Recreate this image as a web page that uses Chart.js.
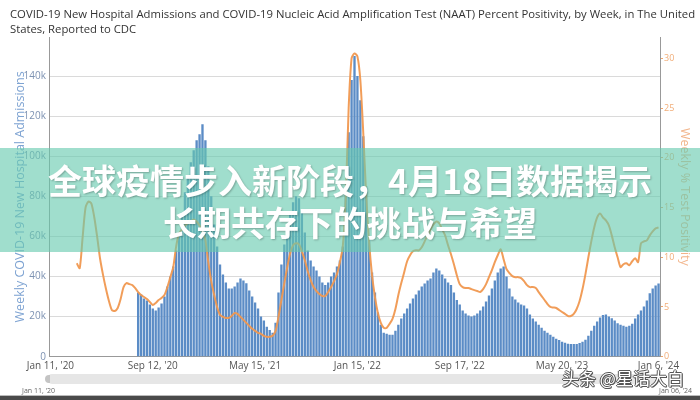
<!DOCTYPE html>
<html>
<head>
<meta charset="utf-8">
<script src="https://cdn.jsdelivr.net/npm/chart.js@4.4.1/dist/chart.umd.min.js"></script>
<style>
  html, body { margin: 0; padding: 0; background: #fff; }
  #wrap { position: relative; width: 700px; height: 400px; overflow: hidden; font-family: 'Open Sans', sans-serif; }
  #myChart { position: absolute; left: 0; top: 0; }
  #title { position: absolute; left: 10px; top: 6px; width: 690px; font-size: 11.3px; line-height: 15px; color: #333; white-space: nowrap; }
  #band { position: absolute; left: 0; top: 148px; width: 700px; height: 104px; background: rgba(102, 202, 174, 0.62); }
  .headline { position: absolute; left: 0; width: 700px; text-align: center; color: #fff; font-family: 'Noto Sans CJK SC', sans-serif; font-weight: 700; font-size: 34px; line-height: 40px; text-shadow: 1px 1px 2px rgba(0,0,0,0.25); white-space: nowrap; }
  #nav { position: absolute; left: 47px; top: 374px; width: 614px; height: 10px; background: #e6e6e6; border-radius: 5px; }
  #handle { position: absolute; left: 45px; top: 375px; width: 5px; height: 8px; border-radius: 4px 0 0 4px; background: #c4c4c4; }
  .navlabel { position: absolute; top: 386px; font-size: 7px; color: #666; white-space: nowrap; }
  #rule { position: absolute; left: 0; top: 395px; width: 700px; height: 1px; background: #bbb; }
  #foot { position: absolute; left: 0; top: 396px; width: 700px; height: 4px; background: #4a4a4a; }
  #mark { position: absolute; left: 562px; top: 369px; font-family: 'Noto Sans CJK SC', sans-serif; font-size: 17px; line-height: 17px; color: #fff; white-space: nowrap;
          text-shadow: -1px 0 #555, 1px 0 #555, 0 -1px #555, 0 1px #555, 1px 1px #555; }
</style>
</head>
<body>
<div id="wrap">
  <canvas id="myChart" width="700" height="400"></canvas>
  <div id="title">COVID-19 New Hospital Admissions and COVID-19 Nucleic Acid Amplification Test (NAAT) Percent Positivity, by Week, in The United<br>States, Reported to CDC</div>
  <div id="nav"></div>
  <div id="handle"></div>
  <div class="navlabel" style="left:22px">Jan 11, '20</div>
  <div class="navlabel" style="left:659px">Jan 06, '24</div>
  <div id="band"></div>
  <div class="headline" style="top:160px">全球疫情步入新阶段，4月18日数据揭示</div>
  <div class="headline" style="top:202px">长期共存下的挑战与希望</div>
  <div id="mark">头条 @星话大白</div>
  <div id="rule"></div>
  <div id="foot"></div>
</div>
<script>
// weekly categories, Jan 11 2020 .. Jan 6 2024
const firstWeek = new Date(Date.UTC(2020, 0, 11));
const weekCount = 209;
const months = ['Jan', 'Feb', 'Mar', 'Apr', 'May', 'Jun', 'Jul', 'Aug', 'Sep', 'Oct', 'Nov', 'Dec'];
const weeks = [];
for (let i = 0; i < weekCount; i++) {
    const d = new Date(firstWeek.getTime() + i * 7 * 86400000);
    weeks.push(`${months[d.getUTCMonth()]} ${d.getUTCDate()}, '${String(d.getUTCFullYear()).slice(2)}`);
}

const xTickLabels = ["Jan 11, '20", "Sep 12, '20", "May 15, '21", "Jan 15, '22", "Sep 17, '22", "May 20, '23", "Jan 6, '24"];

// weekly new hospital admissions, thousands
const admissions = [
    null, null, null, null, null, null, null, null, null, null,
    null, null, null, null, null, null, null, null, null, null,
    null, null, null, null, null, null, null, null, null, null,
    32, 31, 29, 28, 26, 24, 23, 24.5, 26.6, 30,
    35, 40, 45, 53, 62, 72, 82, 90, 97, 103,
    108, 111, 116, 108, 95, 80, 66, 55, 46, 41,
    37, 34, 34, 35, 37, 39, 38, 36.7, 33, 30,
    27, 24, 20, 18, 15, 13.3, 12, 17, 32, 46,
    56, 65, 72, 77, 80, 79, 73, 62, 53, 48,
    45, 43, 40, 37, 35.8, 37, 40, 42, 45, 48,
    55, 82, 112, 138, 150, 140, 128, 110, 85, 60,
    42, 32, 22, 16, 12, 11.5, 11, 11, 13, 16,
    19, 21.6, 24, 26.6, 29, 31, 33, 35, 36.5, 38,
    39, 42, 44, 43, 41, 39, 37, 35.8, 32, 28.3,
    26, 23, 21.5, 20.5, 20, 20.5, 21.6, 23, 25, 27.5,
    30.5, 34, 38, 42, 44, 45, 40, 34, 30, 28.5,
    27, 26, 25.5, 24, 21, 19, 17.5, 16, 14.5, 13,
    12, 11, 10, 9, 8.3, 7.5, 7, 6.5, 6.3, 6.3,
    6.3, 6.8, 7.5, 8.5, 10.5, 13, 15.5, 17.5, 19.5, 20.8,
    21, 20, 19.2, 18, 16.7, 16, 15.5, 15, 15.5, 16.5,
    19, 21, 23, 25, 28, 31.6, 34, 35.5, 36.5
];

// weekly NAAT percent positivity
const positivity = [
    null, null, null, null, null, null, null, null, null, 9.4,
    8.9, 12, 15, 15.6, 15.4, 14, 12, 9.8, 8.2, 6.8,
    5.6, 4.7, 4.6, 4.9, 5.8, 7.0, 7.4, 7.3, 7.2, 6.9,
    6.5, 6.2, 6.0, 5.8, 5.5, 5.2, 5.4, 5.7, 5.9, 6.2,
    7.0, 8.0, 9.0, 11.1, 12.4, 12.8, 13.2, 13.4, 13.6, 13.8,
    13.6, 13.2, 12.6, 11.7, 9.5, 7.6, 6.2, 5.0, 4.2, 4.0,
    3.9, 3.9, 4.1, 4.4, 4.3, 4.0, 3.7, 3.4, 3.1, 2.8,
    2.6, 2.4, 2.3, 2.1, 2.0, 2.0, 2.1, 2.6, 4.0, 5.7,
    7.4, 9.0, 10.4, 11.2, 11.4, 11.3, 10.6, 9.7, 8.6, 7.7,
    7.0, 6.6, 6.3, 6.1, 6.1, 6.5, 7.0, 7.6, 8.3, 9.5,
    11.1, 16, 25, 30, 30.5, 30.2, 27.8, 22.5, 16.2, 11.5,
    8.2, 6.0, 4.4, 3.4, 2.9, 2.9, 3.3, 3.8, 4.8, 6.2,
    7.4, 8.5, 9.6, 10.2, 10.6, 10.7, 10.7, 11.0, 11.6, 12.2,
    12.8, 13.3, 13.6, 13.4, 12.8, 12.2, 11.2, 10.3, 9.3, 8.2,
    7.3, 7.0, 6.9, 6.9, 6.8, 6.7, 6.6, 6.5, 6.8, 7.3,
    8.0, 8.7, 9.5, 10.2, 10.8, 9.8, 8.8, 8.4, 8.1, 8.0,
    8.0, 7.9, 7.6, 7.2, 7.0, 7.0, 6.9, 6.5, 6.1, 5.7,
    5.3, 5.0, 4.95, 4.9, 4.7, 4.5, 4.3, 4.1, 4.1, 4.3,
    4.8, 5.6, 6.8, 8.3, 10.0, 11.6, 13.0, 14.0, 14.4, 14.0,
    13.7, 13.2, 12.2, 11.0, 10.0, 9.0, 9.3, 9.4, 9.2, 9.6,
    9.9, 9.5, 11.4, 11.6, 11.7, 12.2, 12.6, 12.9, 13.0
];

const ctx = document.getElementById('myChart').getContext('2d');

const chart = new Chart(ctx, {
    type: 'bar',
    data: {
        labels: weeks,
        datasets: [{
            type: 'line',
            label: 'Weekly % Test Positivity',
            data: positivity,
            yAxisID: 'y2',
            borderColor: 'rgba(240, 152, 80, 0.95)',
            borderWidth: 2,
            pointRadius: 0,
            tension: 0.25,
            order: 0
        }, {
            type: 'bar',
            label: 'Weekly COVID-19 New Hospital Admissions',
            data: admissions,
            yAxisID: 'y',
            backgroundColor: '#5b8cc6',
            barPercentage: 0.8,
            categoryPercentage: 1,
            order: 1
        }]
    },
    options: {
        responsive: false,
        animation: false,
        layout: {
            padding: { top: 37 }
        },
        plugins: {
            legend: { display: false },
            tooltip: { enabled: false }
        },
        scales: {
            x: {
                grid: { display: false, drawTicks: false },
                border: { display: true, color: '#999' },
                ticks: {
                    autoSkip: false,
                    maxRotation: 0,
                    padding: 3,
                    color: '#555',
                    font: { family: 'Open Sans', size: 10 },
                    callback: function (value, index) {
                        const lab = weeks[index];
                        return xTickLabels.includes(lab) ? lab : null;
                    }
                },
                afterFit: (scale) => { scale.height = 43.3; }
            },
            y: {
                position: 'left',
                min: 0,
                max: 159.5,
                grid: { color: '#dadada', drawTicks: false },
                border: { display: true, color: '#999' },
                ticks: {
                    stepSize: 20,
                    includeBounds: false,
                    padding: 3,
                    color: '#7d92b2',
                    font: { family: 'Open Sans', size: 10 },
                    callback: (v) => v === 0 ? '0' : v + 'k'
                },
                title: {
                    display: true,
                    text: 'Weekly COVID-19 New Hospital Admissions',
                    color: '#7ea3d2',
                    font: { family: 'Open Sans', size: 12.5 },
                    padding: 13
                },
                afterFit: (scale) => { scale.width = 49; }
            },
            y2: {
                position: 'right',
                min: 0,
                max: 32.15,
                grid: { drawOnChartArea: false, color: '#f0a468', tickLength: 3 },
                border: { display: true, color: '#999' },
                ticks: {
                    stepSize: 5,
                    includeBounds: false,
                    padding: 1,
                    color: '#f1ad78',
                    font: { family: 'Open Sans', size: 9 }
                },
                title: {
                    display: true,
                    text: 'Weekly % Test Positivity',
                    color: '#f2b48a',
                    font: { family: 'Open Sans', size: 12.5 },
                    padding: 8
                },
                afterFit: (scale) => { scale.width = 40; }
            }
        }
    }
});
</script>
</body>
</html>
